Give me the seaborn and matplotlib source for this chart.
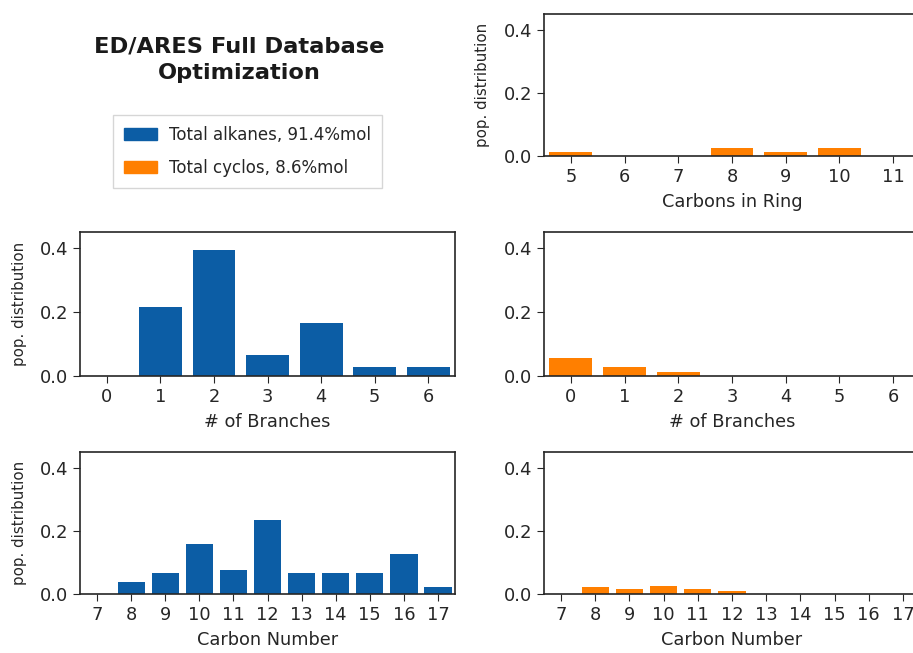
import matplotlib
matplotlib.use("Agg")
import matplotlib.pyplot as plt
from matplotlib.patches import Patch
import seaborn as sns

# Population distributions (mole fraction) of the optimized mixture
branch_counts = [0, 1, 2, 3, 4, 5, 6]
alkane_branches = [0.0, 0.217, 0.395, 0.065, 0.165, 0.029, 0.029]
cyclo_branches = [0.057, 0.027, 0.014, 0.0, 0.0, 0.0, 0.0]

carbon_numbers = [7, 8, 9, 10, 11, 12, 13, 14, 15, 16, 17]
alkane_carbons = [0.0, 0.038, 0.067, 0.157, 0.075, 0.235, 0.067, 0.067, 0.067, 0.127, 0.021]
cyclo_carbons = [0.0, 0.021, 0.015, 0.026, 0.015, 0.008, 0.0, 0.0, 0.0, 0.0, 0.0]

ring_sizes = [5, 6, 7, 8, 9, 10, 11]
cyclo_rings = [0.014, 0.0, 0.0, 0.026, 0.014, 0.026, 0.0]

legend_labels = ["Total alkanes, 91.4%mol", "Total cyclos, 8.6%mol"]
title_text = "ED/ARES Full Database\nOptimization"

ALKANE_COLOR = "#0C5DA5"
CYCLO_COLOR = "#FF7F00"

sns.set_style("ticks")
plt.rcParams.update({
    "font.family": ["DejaVu Sans"],
    "xtick.labelsize": 12.8,
    "ytick.labelsize": 13,
    "axes.labelsize": 12.8,
    "axes.linewidth": 1.2,
    "xtick.major.size": 5,
    "ytick.major.size": 5,
})

W, H = 913, 653
fig = plt.figure(figsize=(W / 100, H / 100), dpi=100)


def px_axes(x0, y0, x1, y1):
    return fig.add_axes([x0 / W, 1 - y1 / H, (x1 - x0) / W, (y1 - y0) / H])


ax_ring = px_axes(544, 14, 920, 156)
ax_br_a = px_axes(80, 232, 455, 376)
ax_br_c = px_axes(544, 232, 920, 376)
ax_cn_a = px_axes(80, 452, 455, 594)
ax_cn_c = px_axes(544, 452, 920, 594)


def bars(ax, cats, vals, color, xlabel, ylabel=None):
    sns.barplot(x=cats, y=vals, order=cats, color=color, saturation=1,
                width=0.8, linewidth=0, ax=ax)
    ax.set_ylim(0, 0.45)
    ax.set_yticks([0.0, 0.2, 0.4])
    ax.set_yticklabels(["0.0", "0.2", "0.4"])
    ax.set_xlabel(xlabel, labelpad=5.5)
    ax.set_ylabel(ylabel if ylabel else "", fontsize=10.8, labelpad=9.5)
    for s in ax.spines.values():
        s.set_visible(True)


bars(ax_ring, ring_sizes, cyclo_rings, CYCLO_COLOR, "Carbons in Ring", "pop. distribution")
bars(ax_br_a, branch_counts, alkane_branches, ALKANE_COLOR, "# of Branches", "pop. distribution")
bars(ax_br_c, branch_counts, cyclo_branches, CYCLO_COLOR, "# of Branches")
bars(ax_cn_a, carbon_numbers, alkane_carbons, ALKANE_COLOR, "Carbon Number", "pop. distribution")
bars(ax_cn_c, carbon_numbers, cyclo_carbons, CYCLO_COLOR, "Carbon Number")

fig.text(239 / W, 1 - 60 / H, title_text, ha="center", va="center",
         fontsize=16.2, fontweight="bold", linespacing=1.4, color="#1a1a1a")

handles = [Patch(color=ALKANE_COLOR), Patch(color=CYCLO_COLOR)]
fig.legend(handles, legend_labels, loc="upper left",
           bbox_to_anchor=(113 / W, 1 - 115 / H), borderaxespad=0,
           fontsize=12, frameon=True, labelspacing=0.9, borderpad=0.65,
           handletextpad=0.7, fancybox=False, edgecolor="#cccccc")

fig.savefig("out.png", dpi=100)
